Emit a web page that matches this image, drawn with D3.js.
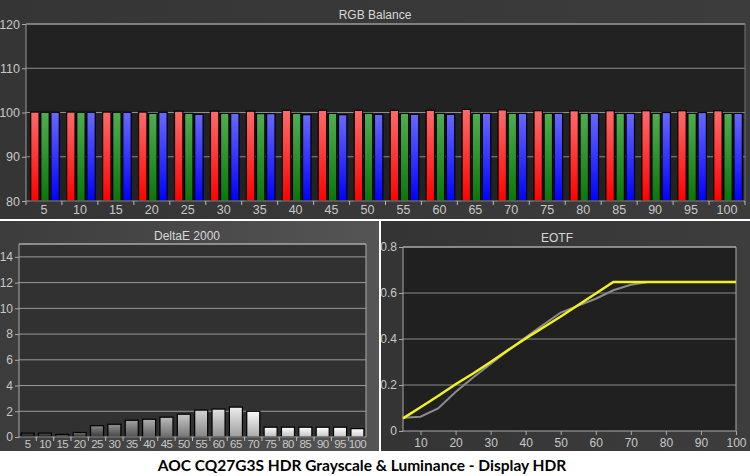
<!DOCTYPE html>
<html>
<head>
<meta charset="utf-8">
<script src="https://cdn.jsdelivr.net/npm/d3@7"></script>
<style>
  html, body { margin: 0; padding: 0; background: #ffffff; }
  svg { display: block; }
  text { font-family: "Liberation Sans", Arial, sans-serif; }
</style>
</head>
<body>
<svg id="chart" width="750" height="476"></svg>
<script>
// ---------------- DATA ----------------
const rgbCategories = [5,10,15,20,25,30,35,40,45,50,55,60,65,70,75,80,85,90,95,100];
const redValues   = [100.1,100.1,100.1,100.1,100.3,100.3,100.3,100.5,100.5,100.5,100.5,100.5,100.7,100.6,100.4,100.4,100.4,100.4,100.4,100.4];
const greenValues = [100.05,100.05,100.05,99.8,99.8,99.8,99.75,99.8,99.8,99.8,99.8,99.8,99.8,99.8,99.8,99.8,99.8,99.8,99.8,99.8];
const blueValues  = [100.05,100.05,100.05,100.05,99.6,99.8,99.75,99.5,99.5,99.6,99.6,99.6,99.8,99.8,99.8,99.8,99.8,100.0,100.0,99.8];
const rgbYTicks = [80,90,100,110,120];

const deltaECategories = [5,10,15,20,25,30,35,40,45,50,55,60,65,70,75,80,85,90,95,100];
const deltaEValues = [0.3,0.3,0.2,0.35,0.88,0.99,1.3,1.38,1.54,1.77,2.09,2.17,2.32,2.0,0.76,0.76,0.76,0.76,0.76,0.65];
const deltaEYTicks = [0,2,4,6,8,10,12,14];

const eotfX        = [5,10,15,20,25,30,35,40,45,50,55,60,65,70,75,80,85,90,95,100];
const eotfTarget   = [0.058,0.062,0.098,0.170,0.233,0.292,0.350,0.407,0.462,0.515,0.545,0.575,0.612,0.636,0.648,0.648,0.648,0.648,0.648,0.648];
const eotfMeasured = [0.055,0.103,0.152,0.203,0.250,0.300,0.352,0.402,0.450,0.498,0.548,0.598,0.648,0.648,0.648,0.648,0.648,0.648,0.648,0.648];
const eotfXTicks = [10,20,30,40,50,60,70,80,90,100];
const eotfYTicks = [0,0.2,0.4,0.6,0.8];

const chartTitle = "AOC CQ27G3S HDR Grayscale & Luminance - Display HDR";

// ---------------- DRAW ----------------
const svg = d3.select("#chart");
const defs = svg.append("defs");

function vGrad(id, top, bottom) {
  const g = defs.append("linearGradient").attr("id", id)
    .attr("x1", 0).attr("y1", 0).attr("x2", 0).attr("y2", 1);
  g.append("stop").attr("offset", "0%").attr("stop-color", top);
  g.append("stop").attr("offset", "100%").attr("stop-color", bottom);
}
function hGrad(id, left, right) {
  const g = defs.append("linearGradient").attr("id", id)
    .attr("x1", 0).attr("y1", 0).attr("x2", 1).attr("y2", 0);
  g.append("stop").attr("offset", "0%").attr("stop-color", left);
  g.append("stop").attr("offset", "100%").attr("stop-color", right);
}
vGrad("gR", "#ff6a6a", "#ff0000");
vGrad("gG", "#4fae4f", "#0b760b");
vGrad("gB", "#6868ff", "#0000ff");
hGrad("panelTop", "#353535", "#3c3c3c");
hGrad("panelBL", "#3c3c3c", "#555555");
hGrad("panelBR", "#343434", "#3d3d3d");

const tickColor = "#c8c8c8";
const gridColor = "#8e8e8e";

// Panels
svg.append("rect").attr("x", 0).attr("y", 0).attr("width", 750).attr("height", 219).attr("fill", "url(#panelTop)");
svg.append("rect").attr("x", 0).attr("y", 221).attr("width", 379).attr("height", 230).attr("fill", "url(#panelBL)");
svg.append("rect").attr("x", 381).attr("y", 221).attr("width", 369).attr("height", 230).attr("fill", "url(#panelBR)");

function styleAxis(g) {
  g.selectAll(".domain").remove();
  g.selectAll(".tick line").attr("stroke", "#aaaaaa");
  g.selectAll(".tick text").attr("fill", tickColor).style("font-size", "12px");
}

// ===== RGB Balance =====
(function () {
  const L = 26, R = 745, T = 24, B = 201;
  const x = d3.scaleBand().domain(rgbCategories).range([L, R]);
  const sub = d3.scaleBand().domain(["r", "g", "b"]).range([4.7, 33.3]).paddingInner(0.17);
  const y = d3.scaleLinear().domain([80, 120]).range([B, T]);

  svg.append("rect").attr("x", L).attr("y", T).attr("width", R - L).attr("height", B - T).attr("fill", "#222222");
  svg.append("g").selectAll("line").data(rgbYTicks.filter(d => d > 80 && d < 120)).join("line")
    .attr("x1", L).attr("x2", R).attr("y1", d => y(d)).attr("y2", d => y(d))
    .attr("stroke", gridColor).attr("stroke-width", 1);

  const series = [
    { key: "r", vals: redValues, fill: "url(#gR)" },
    { key: "g", vals: greenValues, fill: "url(#gG)" },
    { key: "b", vals: blueValues, fill: "url(#gB)" }
  ];
  series.forEach(s => {
    svg.append("g").selectAll("rect").data(rgbCategories).join("rect")
      .attr("x", (d) => x(d) + sub(s.key))
      .attr("width", sub.bandwidth())
      .attr("y", (d, i) => y(s.vals[i]))
      .attr("height", (d, i) => y(80) - y(s.vals[i]))
      .attr("fill", s.fill)
      .attr("stroke", "#000").attr("stroke-width", 1.2);
  });

  svg.append("line").attr("x1", L).attr("x2", R).attr("y1", T).attr("y2", T).attr("stroke", "#9a9a9a").attr("stroke-width", 1.5);
  svg.append("line").attr("x1", L).attr("x2", L).attr("y1", T).attr("y2", B).attr("stroke", "#9a9a9a");
  svg.append("line").attr("x1", R).attr("x2", R).attr("y1", T).attr("y2", B).attr("stroke", "#777");
  svg.append("line").attr("x1", L).attr("x2", R).attr("y1", B).attr("y2", B).attr("stroke", "#9a9a9a");

  const ya = svg.append("g").attr("transform", `translate(${L},0)`)
    .call(d3.axisLeft(y).tickValues(rgbYTicks).tickSize(4).tickPadding(2));
  styleAxis(ya);
  ya.selectAll(".tick text").style("font-size", "12.5px");

  const xa = svg.append("g").attr("transform", `translate(0,${B})`)
    .call(d3.axisBottom(x).tickSize(0).tickPadding(4));
  styleAxis(xa);
  xa.selectAll(".tick text").style("font-size", "12.5px");
  svg.append("g").selectAll("line").data(rgbCategories).join("line")
    .attr("x1", d => x(d) + x.step()).attr("x2", d => x(d) + x.step())
    .attr("y1", B).attr("y2", B + 4).attr("stroke", "#bbb");
  svg.append("line").attr("x1", L).attr("x2", L).attr("y1", B).attr("y2", B + 4).attr("stroke", "#bbb");

  svg.append("text").attr("x", 375).attr("y", 19).attr("text-anchor", "middle")
    .attr("fill", "#d8d8d8").style("font-size", "12px").text("RGB Balance");
})();

// ===== DeltaE 2000 =====
(function () {
  const L = 19, R = 366, T = 244, B = 437;
  const x = d3.scaleBand().domain(deltaECategories).range([L, R]).paddingInner(0.25).paddingOuter(0.12);
  const y = d3.scaleLinear().domain([0, 15]).range([B, T]);

  svg.append("rect").attr("x", L).attr("y", T).attr("width", R - L).attr("height", B - T).attr("fill", "#313131");
  svg.append("g").selectAll("line").data(deltaEYTicks.filter(d => d > 0)).join("line")
    .attr("x1", L).attr("x2", R).attr("y1", d => y(d)).attr("y2", d => y(d))
    .attr("stroke", "#9a9a9a").attr("stroke-width", 1);

  const grayScale = d3.scaleLinear().domain([0, 13, 14, 19]).range([50, 215, 232, 250]).clamp(true);
  deltaECategories.forEach((c, i) => {
    const g = Math.round(grayScale(i));
    const top = d3.rgb(Math.min(255, g + 35), Math.min(255, g + 35), Math.min(255, g + 35));
    const bot = d3.rgb(Math.max(0, g - 45), Math.max(0, g - 45), Math.max(0, g - 45));
    vGrad("gd" + i, top.formatHex(), bot.formatHex());
  });
  svg.append("g").selectAll("rect").data(deltaECategories).join("rect")
    .attr("x", d => x(d)).attr("width", x.bandwidth())
    .attr("y", (d, i) => y(deltaEValues[i]))
    .attr("height", (d, i) => y(0) - y(deltaEValues[i]))
    .attr("fill", (d, i) => `url(#gd${i})`)
    .attr("stroke", "#000").attr("stroke-width", 1.2);

  svg.append("line").attr("x1", L).attr("x2", R).attr("y1", T).attr("y2", T).attr("stroke", "#aaa").attr("stroke-width", 1.5);
  svg.append("line").attr("x1", L).attr("x2", L).attr("y1", T).attr("y2", B).attr("stroke", "#aaa");
  svg.append("line").attr("x1", R).attr("x2", R).attr("y1", T).attr("y2", B).attr("stroke", "#aaa");
  svg.append("line").attr("x1", L).attr("x2", R).attr("y1", B).attr("y2", B).attr("stroke", "#aaa");

  const ya = svg.append("g").attr("transform", `translate(${L},0)`)
    .call(d3.axisLeft(y).tickValues(deltaEYTicks).tickSize(4).tickPadding(2));
  styleAxis(ya);
  const xa = svg.append("g").attr("transform", `translate(0,${B})`)
    .call(d3.axisBottom(x).tickSize(0).tickPadding(3));
  styleAxis(xa);
  xa.selectAll(".tick text").style("font-size", "11.5px").style("letter-spacing", "-0.6px");
  const step = x.step();
  svg.append("g").selectAll("line").data(deltaECategories.slice(0, -1)).join("line")
    .attr("x1", d => x(d) + x.bandwidth() + (step - x.bandwidth()) / 2)
    .attr("x2", d => x(d) + x.bandwidth() + (step - x.bandwidth()) / 2)
    .attr("y1", B).attr("y2", B + 4).attr("stroke", "#bbb");

  svg.append("text").attr("x", 187).attr("y", 240).attr("text-anchor", "middle")
    .attr("fill", "#d8d8d8").style("font-size", "12px").text("DeltaE 2000");
})();

// ===== EOTF =====
(function () {
  const L = 403, R = 736, T = 247, B = 431;
  const x = d3.scaleLinear().domain([5, 100]).range([L, R]);
  const y = d3.scaleLinear().domain([0, 0.8]).range([B, T]);

  svg.append("rect").attr("x", L).attr("y", T).attr("width", R - L).attr("height", B - T).attr("fill", "#202020");
  svg.append("g").selectAll("line").data(eotfYTicks.filter(d => d > 0 && d < 0.8)).join("line")
    .attr("x1", L).attr("x2", R).attr("y1", d => y(d)).attr("y2", d => y(d))
    .attr("stroke", "#8a8a8a").attr("stroke-width", 1);

  svg.append("line").attr("x1", L).attr("x2", R).attr("y1", T).attr("y2", T).attr("stroke", "#aaa").attr("stroke-width", 1.5);
  svg.append("line").attr("x1", L).attr("x2", L).attr("y1", T).attr("y2", B).attr("stroke", "#aaa");
  svg.append("line").attr("x1", R).attr("x2", R).attr("y1", T).attr("y2", B).attr("stroke", "#aaa");
  svg.append("line").attr("x1", L).attr("x2", R).attr("y1", B).attr("y2", B).attr("stroke", "#aaa");

  const line = d3.line().x(d => x(d[0])).y(d => y(d[1]));
  svg.append("path").datum(eotfX.map((v, i) => [v, eotfTarget[i]]))
    .attr("d", line).attr("fill", "none").attr("stroke", "#8c8c8c").attr("stroke-width", 2);
  svg.append("path").datum(eotfX.map((v, i) => [v, eotfMeasured[i]]))
    .attr("d", line).attr("fill", "none").attr("stroke", "#f2f21e").attr("stroke-width", 2.5);

  const ya = svg.append("g").attr("transform", `translate(${L},0)`)
    .call(d3.axisLeft(y).tickValues(eotfYTicks).tickSize(4).tickPadding(2).tickFormat(d => d === 0 ? "0" : d3.format(".1f")(d)));
  styleAxis(ya);
  const xa = svg.append("g").attr("transform", `translate(0,${B})`)
    .call(d3.axisBottom(x).tickValues(eotfXTicks).tickSize(4).tickPadding(3));
  styleAxis(xa);

  svg.append("text").attr("x", 557).attr("y", 242).attr("text-anchor", "middle")
    .attr("fill", "#d8d8d8").style("font-size", "12px").text("EOTF");
})();

// Bottom title
svg.append("text").attr("x", 362).attr("y", 471).attr("text-anchor", "middle")
  .attr("fill", "#000").style("font-family", "Lato, 'Open Sans', sans-serif")
  .style("font-weight", "bold").style("font-size", "15.5px").text(chartTitle);
</script>
</body>
</html>
